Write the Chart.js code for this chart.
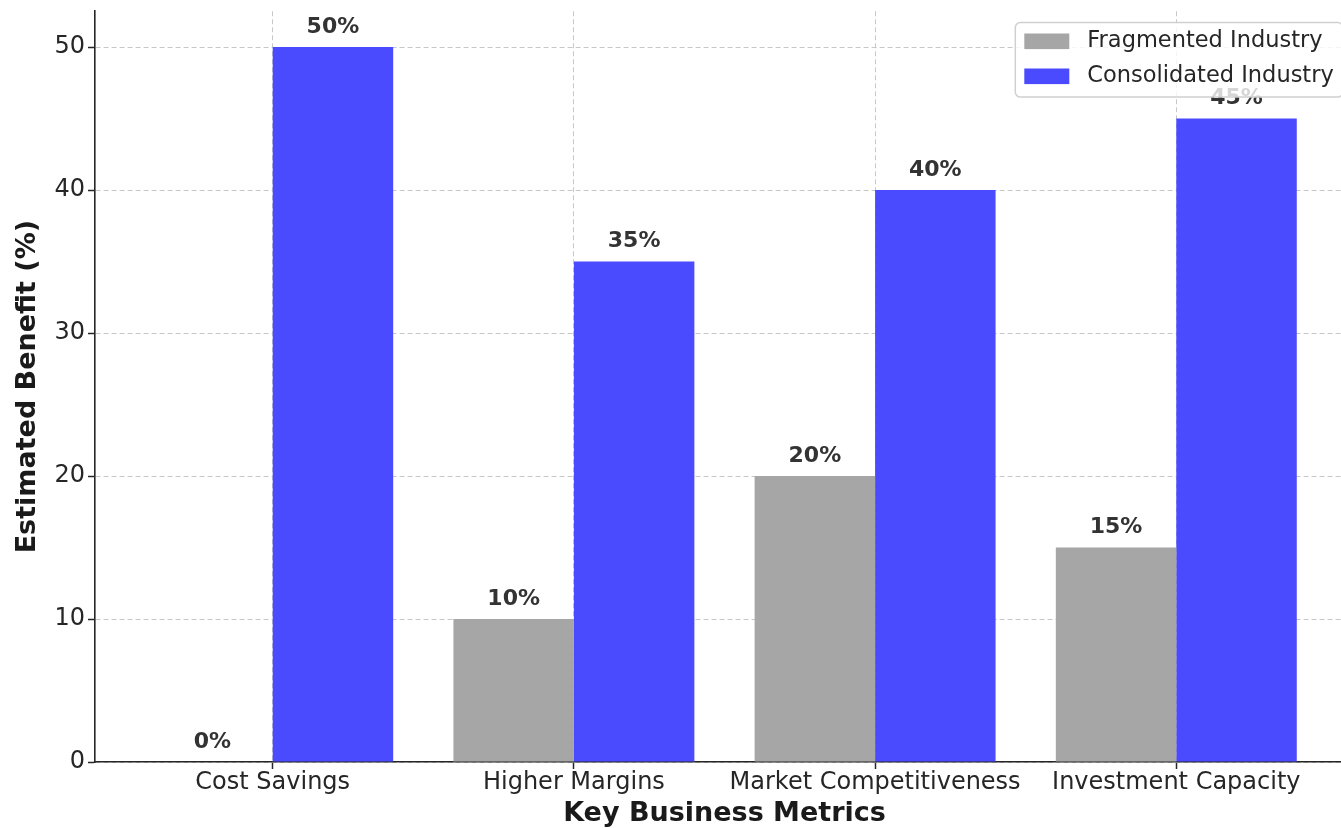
<!DOCTYPE html>
<html>
<head>
<meta charset="utf-8">
<script src="https://cdn.jsdelivr.net/npm/chart.js@4"></script>
<style>
  html, body { margin: 0; padding: 0; background: #ffffff; overflow: hidden; }
  #wrap { width: 1341px; height: 828px; overflow: hidden; position: relative; }
  canvas { display: block; }
</style>
</head>
<body>
<div id="wrap"><canvas id="chart" width="1354" height="828"></canvas></div>
<script>
// Benefit estimates per business metric
const categories = ['Cost Savings', 'Higher Margins', 'Market Competitiveness', 'Investment Capacity'];
const fragmented = [0, 10, 20, 15];
const consolidated = [50, 35, 40, 45];
const seriesNames = ['Fragmented Industry', 'Consolidated Industry'];
const yTicks = [0, 10, 20, 30, 40, 50];

const FONT = '"DejaVu Sans", "Liberation Sans", sans-serif';
const GRAY = '#a6a6a6';
const BLUE = '#4a4aff';
const AXIS = '#262626';
const GRID = '#c8c8c8';

// Value labels above each bar
const valueLabels = {
  id: 'valueLabels',
  afterDraw(chart) {
    const ctx = chart.ctx;
    const yScale = chart.scales.y;
    ctx.save();
    ctx.font = 'bold 22px ' + FONT;
    ctx.fillStyle = '#333333';
    ctx.textAlign = 'center';
    ctx.textBaseline = 'alphabetic';
    chart.data.datasets.forEach((ds, di) => {
      const meta = chart.getDatasetMeta(di);
      meta.data.forEach((el, i) => {
        const v = ds.data[i].y;
        ctx.fillText(v + '%', el.x, yScale.getPixelForValue(v + 1));
      });
    });
    ctx.restore();
  }
};

// Framed legend in the upper right corner of the plot area
const boxLegend = {
  id: 'boxLegend',
  afterDraw(chart) {
    const ctx = chart.ctx;
    const area = chart.chartArea;
    const fs = 22.5;
    const pad = 0.5 * fs;
    const borderPad = 0.4 * fs;
    const handleLen = 2.0 * fs;
    const textPad = 0.8 * fs;
    ctx.save();
    ctx.font = fs + 'px ' + FONT;
    const textW = Math.max(...chart.data.datasets.map(d => ctx.measureText(d.label).width));
    const w = borderPad * 2 + handleLen + textPad + textW;
    const h = 74.6;
    const right = area.right - pad;
    const top = area.top + pad;
    const left = right - w;
    ctx.beginPath();
    ctx.roundRect(left, top, w, h, 5);
    ctx.fillStyle = 'rgba(255,255,255,0.8)';
    ctx.fill();
    ctx.lineWidth = 1.5;
    ctx.strokeStyle = '#d0d0d0';
    ctx.stroke();
    const rows = [top + 18.8, top + 53.8];
    chart.data.datasets.forEach((d, i) => {
      ctx.fillStyle = d.backgroundColor;
      ctx.fillRect(left + borderPad, rows[i] - 7.8, handleLen, 15.6);
      ctx.fillStyle = AXIS;
      ctx.textAlign = 'left';
      ctx.textBaseline = 'middle';
      ctx.fillText(d.label, left + borderPad + handleLen + textPad, rows[i]);
    });
    ctx.restore();
  }
};

new Chart(document.getElementById('chart'), {
  type: 'bar',
  data: {
    datasets: [
      {
        label: seriesNames[0],
        data: categories.map((c, i) => ({ x: i, y: fragmented[i] })),
        backgroundColor: GRAY,
        borderWidth: 0
      },
      {
        label: seriesNames[1],
        data: categories.map((c, i) => ({ x: i, y: consolidated[i] })),
        backgroundColor: BLUE,
        borderWidth: 0
      }
    ]
  },
  options: {
    responsive: false,
    animation: false,
    events: [],
    categoryPercentage: 0.8,
    barPercentage: 1.0,
    layout: { padding: { top: 11.25, right: 0, bottom: 0, left: 0 } },
    plugins: {
      legend: { display: false },
      tooltip: { enabled: false }
    },
    scales: {
      x: {
        type: 'linear',
        min: -0.59,
        max: 3.59,
        offset: false,
        z: 1,
        afterBuildTicks: s => { s.ticks = categories.map((c, i) => ({ value: i })); },
        afterFit: s => { s.height = 66; s.paddingLeft = 0; s.paddingRight = 0; },
        ticks: {
          callback: v => categories[v],
          font: { family: FONT, size: 24 },
          color: AXIS,
          padding: -1,
          maxRotation: 0,
          autoSkip: false
        },
        grid: {
          offset: false,
          color: GRID,
          lineWidth: 1,
          tickLength: 7,
          tickColor: AXIS,
          tickWidth: 1.5
        },
        border: { color: AXIS, width: 1.6, dash: [5, 3] },
        title: {
          display: true,
          text: 'Key Business Metrics',
          font: { family: FONT, size: 27, weight: 'bold' },
          color: '#1a1a1a',
          padding: { top: 0, bottom: -2 }
        }
      },
      y: {
        type: 'linear',
        min: 0,
        max: 52.5,
        z: 1,
        afterBuildTicks: s => { s.ticks = yTicks.map(v => ({ value: v })); },
        afterFit: s => { s.width = 95; s.paddingTop = 0; s.paddingBottom = 0; },
        ticks: {
          font: { family: FONT, size: 24 },
          color: AXIS,
          padding: 3
        },
        grid: {
          color: GRID,
          lineWidth: 1,
          tickLength: 7,
          tickColor: AXIS,
          tickWidth: 1.5
        },
        border: { color: AXIS, width: 1.6, dash: [5, 3] },
        title: {
          display: true,
          text: 'Estimated Benefit (%)',
          font: { family: FONT, size: 27, weight: 'bold' },
          color: '#1a1a1a',
          padding: { top: 12, bottom: 0 }
        }
      }
    }
  },
  plugins: [valueLabels, boxLegend]
});
</script>
</body>
</html>
